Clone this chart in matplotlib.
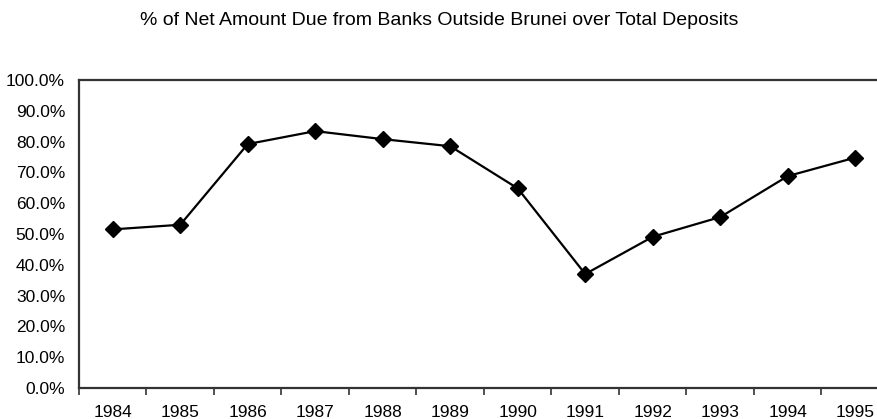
import numpy as np
import matplotlib.pyplot as plt
from matplotlib.ticker import FuncFormatter, FixedLocator

plt.rcParams['font.family'] = ['Liberation Sans', 'DejaVu Sans']

years = ['1984', '1985', '1986', '1987', '1988', '1989',
         '1990', '1991', '1992', '1993', '1994', '1995']
pct = [51.5, 53.0, 79.2, 83.4, 80.8, 78.5, 64.8, 37.0, 49.1, 55.5, 68.8, 74.8]

fig = plt.figure(figsize=(8.78, 4.19), dpi=100)
ax = fig.add_axes([79/878, 31/419, 810/878, 308/419])

x = np.arange(len(years))
ax.plot(x, pct, color='black', lw=1.6, marker='D', markersize=8, zorder=3)

ax.set_xlim(-0.5, len(years) - 0.5)
ax.set_ylim(0, 100)
ax.set_yticks(np.arange(0, 101, 10))
ax.yaxis.set_major_formatter(FuncFormatter(lambda v, p: '%.1f%%' % v))
ax.tick_params(axis='y', length=0, pad=10, labelsize=12.5)

ax.set_xticks(x)
ax.set_xticklabels(years)
ax.tick_params(axis='x', which='major', length=0, pad=12, labelsize=12.5)
ax.xaxis.set_minor_locator(FixedLocator(np.arange(-0.5, len(years), 1)))
ax.tick_params(axis='x', which='minor', length=5, width=1.2, direction='out', color='#333333')

for s in ax.spines.values():
    s.set_linewidth(1.6)
    s.set_color('#333333')

fig.text(0.5, 0.952, '% of Net Amount Due from Banks Outside Brunei over Total Deposits',
         ha='center', va='center', fontsize=14)

fig.savefig('out.png', dpi=100)
